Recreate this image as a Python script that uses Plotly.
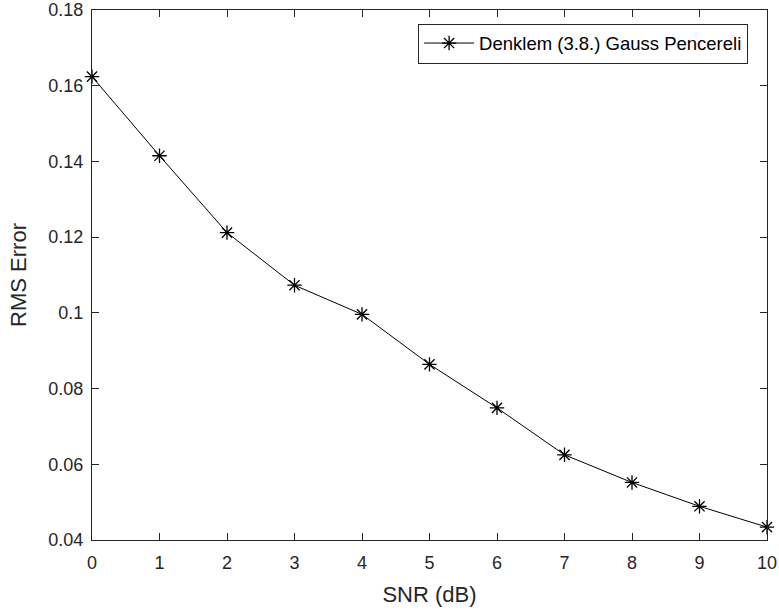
import plotly.graph_objects as go

# SNR sweep and measured RMS error
snr_db = [0, 1, 2, 3, 4, 5, 6, 7, 8, 9, 10]
rms_error = [0.1624, 0.1415, 0.1212, 0.1073, 0.0996, 0.0864, 0.0749, 0.0625, 0.0552, 0.0489, 0.0434]
series_name = "Denklem (3.8.) Gauss Pencereli"

x_ticks = list(range(0, 11))
y_ticks = [0.04, 0.06, 0.08, 0.1, 0.12, 0.14, 0.16, 0.18]
y_tick_text = ["0.04", "0.06", "0.08", "0.1", "0.12", "0.14", "0.16", "0.18"]

axis_color = "#262626"
font_family = "Liberation Sans, Arial, sans-serif"

fig = go.Figure()
fig.add_trace(go.Scatter(
    x=snr_db, y=rms_error, name=series_name,
    mode="lines+markers",
    line=dict(color="black", width=1),
    marker=dict(symbol="asterisk-open", size=12, color="black",
                line=dict(color="black", width=1.3)),
    cliponaxis=False,
))

axis_common = dict(
    showline=True, linecolor=axis_color, linewidth=1, mirror="ticks",
    ticks="inside", ticklen=7, tickwidth=1.2, tickcolor=axis_color,
    showgrid=False, zeroline=False, ticklabeloverflow="allow",
    automargin=False,
    tickfont=dict(family=font_family, size=18, color=axis_color),
)

fig.update_xaxes(range=[0, 10], tickvals=x_ticks, ticklabelstandoff=6,
                 title=dict(text="SNR (dB)",
                            font=dict(family=font_family, size=22, color=axis_color)),
                 **axis_common)
fig.update_yaxes(range=[0.04, 0.18], tickvals=y_ticks, ticktext=y_tick_text,
                 ticklabelstandoff=4,
                 title=dict(text="RMS Error",
                            font=dict(family=font_family, size=22, color=axis_color)),
                 **axis_common)

fig.update_layout(
    width=779, height=614,
    margin=dict(l=92, r=12, t=10, b=74),
    paper_bgcolor="white", plot_bgcolor="white",
    showlegend=True,
    legend=dict(x=0.972, y=0.9745, xanchor="right", yanchor="top",
                bgcolor="white", bordercolor=axis_color, borderwidth=1,
                font=dict(family=font_family, size=18.5, color="black"),
                itemwidth=50),
)

fig.write_html("out.html")
